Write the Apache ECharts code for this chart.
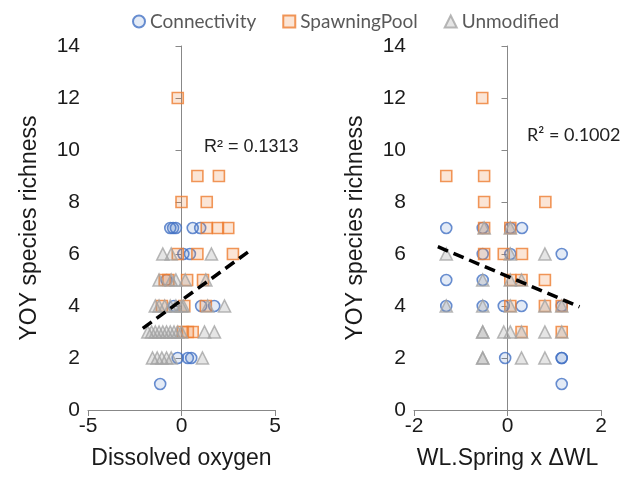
<!DOCTYPE html>
<html>
<head>
<meta charset="utf-8">
<script src="https://cdn.jsdelivr.net/npm/echarts@6/dist/echarts.min.js"></script>
<style>
  html, body { margin: 0; padding: 0; background: #fff; }
  #main { width: 637px; height: 493px; }
</style>
</head>
<body>
<div id="main"></div>
<script>
// left panel: Dissolved oxygen vs YOY species richness
const doConnectivity = [
  [-0.6, 7], [-0.45, 7], [-0.3, 7], [0.6, 7], [1.0, 7],
  [0.1, 6], [0.45, 6], [-0.8, 5], [-0.4, 4], [1.05, 4], [1.75, 4],
  [-0.2, 2], [0.34, 2], [0.52, 2], [-1.14, 1]
];
const doSpawning = [
  [-0.2, 12], [0.85, 9], [2.0, 9], [0.0, 8], [1.35, 8],
  [1.35, 7], [1.95, 7], [2.5, 7], [-0.2, 6], [0.85, 6], [2.75, 6],
  [-0.9, 5], [-0.7, 5], [0.3, 5], [1.15, 5], [-1.05, 4], [0.15, 4], [1.3, 4],
  [0.07, 3], [0.34, 3], [0.6, 3]
];
const doUnmodified = [
  [-1.0, 6], [-0.55, 6], [1.6, 6],
  [-1.2, 5], [-0.55, 5], [-0.3, 5], [0.2, 5], [1.3, 5],
  [-1.4, 4], [-1.2, 4], [-0.9, 4], [-0.6, 4], [-0.3, 4], [0, 4], [0.1, 4], [1.4, 4], [2.3, 4],
  [-1.8, 3], [-1.6, 3], [-1.4, 3], [-1.2, 3], [-1.0, 3], [-0.8, 3], [-0.6, 3], [-0.4, 3], [-0.2, 3], [0, 3], [1.23, 3], [1.76, 3],
  [-1.55, 2], [-1.3, 2], [-1.05, 2], [-0.8, 2], [-0.55, 2], [1.12, 2]
];
const doTrend = [[-2.07, 3.14], [3.55, 6.07]];

// right panel: WL.Spring x ΔWL vs YOY species richness
const wlConnectivity = [
  [-1.31, 7], [-0.53, 7], [0.06, 7], [0.31, 7], [-0.53, 6], [0.06, 6], [1.16, 6],
  [-1.31, 5], [-0.53, 5], [-1.31, 4], [-0.53, 4], [-0.08, 4], [0.3, 4], [1.16, 4],
  [-0.05, 2], [1.16, 2], [1.16, 2], [1.16, 1]
];
const wlSpawning = [
  [-0.54, 12], [-1.31, 9], [-0.5, 9], [-0.5, 8], [0.81, 8], [-0.5, 7], [0.06, 7],
  [-0.5, 6], [-0.08, 6], [0.31, 6], [0.06, 5], [0.3, 5], [0.8, 5],
  [0.06, 4], [0.8, 4], [1.16, 4], [0.3, 3], [1.16, 3]
];
const wlUnmodified = [
  [-0.5, 7], [0.06, 7], [-1.31, 6], [0.06, 6], [0.8, 6], [-0.53, 5], [0.06, 5], [0.3, 5],
  [-1.31, 4], [-0.53, 4], [0.06, 4], [0.8, 4], [1.16, 4],
  [-0.53, 3], [-0.53, 3], [-0.08, 3], [0.06, 3], [0.3, 3], [0.8, 3], [1.16, 3],
  [-0.53, 2], [-0.53, 2], [0.3, 2], [0.8, 2]
];
const wlTrend = [[-1.49, 6.28], [1.54, 3.97]];

const groupNames = ["Connectivity", "SpawningPool", "Unmodified"];
const r2Labels = ["R\u00b2 = 0.1313", "R\u00b2 = 0.1002"];

const styles = {
  Connectivity: { symbol: "circle", size: 11, color: "rgba(68,114,196,0.18)", border: "#4472C4" },
  SpawningPool: { symbol: "rect", size: 11, color: "rgba(237,125,49,0.25)", border: "#ED7D31" },
  Unmodified: { symbol: "triangle", size: 12, color: "rgba(150,150,150,0.3)", border: "#A5A5A5" }
};

function scatter(name, data, idx) {
  const s = styles[name];
  return {
    name: name,
    type: "scatter",
    xAxisIndex: idx,
    yAxisIndex: idx,
    symbol: s.symbol,
    symbolSize: s.size,
    itemStyle: { color: s.color, borderColor: s.border, borderWidth: 1.6 },
    data: data
  };
}

function trend(data, idx) {
  return {
    type: "line",
    xAxisIndex: idx,
    yAxisIndex: idx,
    symbol: "none",
    silent: true,
    lineStyle: { color: "#000", width: 3.5, type: [11, 6] },
    data: data
  };
}

const axisFont = "Liberation Sans";
const xAxisBase = {
  type: "value",
  nameLocation: "middle",
  nameGap: 37,
  nameTextStyle: { fontFamily: axisFont, fontSize: 23, color: "#1a1a1a" },
  axisLine: { onZero: false, lineStyle: { color: "#888" } },
  axisTick: { length: 6, lineStyle: { color: "#888" } },
  axisLabel: { fontFamily: axisFont, fontSize: 21, color: "#1a1a1a", margin: 6 },
  splitLine: { show: false }
};
const yAxisBase = {
  type: "value",
  min: 0,
  max: 14,
  interval: 2,
  name: "YOY species richness",
  nameLocation: "middle",
  nameGap: 47,
  nameRotate: 90,
  nameTextStyle: { fontFamily: axisFont, fontSize: 23, color: "#1a1a1a" },
  axisLine: { show: true, lineStyle: { color: "#888" } },
  axisTick: { show: true, length: 6, lineStyle: { color: "#888" } },
  axisLabel: { fontFamily: axisFont, fontSize: 21, color: "#1a1a1a", margin: 8 },
  splitLine: { show: false }
};

let option = {
  animation: false,
  legend: {
    data: groupNames.map(n => ({ name: n, icon: styles[n].symbol })),
    top: 7,
    left: 127,
    itemWidth: 12,
    itemHeight: 12,
    itemGap: 26,
    textStyle: { fontFamily: "Lato", fontSize: 19, color: "#595959" }
  },
  grid: [
    { left: 88, top: 46, width: 187, height: 364 },
    { left: 414, top: 46, width: 187, height: 364 }
  ],
  xAxis: [
    Object.assign({}, xAxisBase, { gridIndex: 0, min: -5, max: 5, interval: 5, name: "Dissolved oxygen" }),
    Object.assign({}, xAxisBase, { gridIndex: 1, min: -2, max: 2, interval: 2, name: "WL.Spring x \u0394WL" })
  ],
  yAxis: [
    Object.assign({}, yAxisBase, { gridIndex: 0 }),
    Object.assign({}, yAxisBase, { gridIndex: 1 })
  ],
  graphic: [
    { type: "text", left: 204, top: 138, style: { text: r2Labels[0], font: "18px 'Liberation Sans'", fill: "#222" } },
    { type: "text", left: 527, top: 126, style: { text: r2Labels[1], font: "18px Lato", fill: "#222" } }
  ],
  series: [
    scatter("Connectivity", doConnectivity, 0),
    scatter("SpawningPool", doSpawning, 0),
    scatter("Unmodified", doUnmodified, 0),
    trend(doTrend, 0),
    scatter("Connectivity", wlConnectivity, 1),
    scatter("SpawningPool", wlSpawning, 1),
    scatter("Unmodified", wlUnmodified, 1),
    trend(wlTrend, 1)
  ]
};

let myChart = echarts.init(document.getElementById("main"));
myChart.setOption(option);
</script>
</body>
</html>
